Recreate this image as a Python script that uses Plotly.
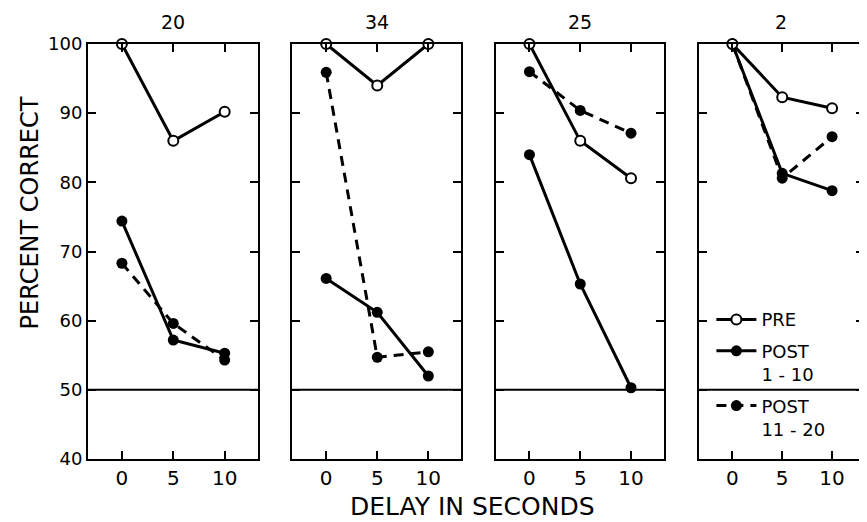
import plotly.graph_objects as go

# ---- data ----
delays = [0, 5, 10]
panel_titles = ["20", "34", "25", "2"]
pre = [[100, 86.0, 90.2], [100, 94.0, 100], [100, 86.0, 80.6], [100, 92.3, 90.7]]
post_1_10 = [[74.4, 57.2, 55.3], [66.1, 61.2, 52.0], [84.0, 65.3, 50.3], [100, 81.3, 78.8]]
post_11_20 = [[68.3, 59.6, 54.3], [95.9, 54.7, 55.5], [96.0, 90.4, 87.1], [100, 80.6, 86.6]]
y_ticks = [40, 50, 60, 70, 80, 90, 100]
x_ticks = [0, 5, 10]

# page coordinates (browser window 867x522, body margin 8px)
OFF = 8
PW, PH = 867, 522
W, H = PW - OFF, PH - OFF
top_px, bot_px = 43.5, 459          # page y of 100 and 40
left_px, right_px = 88, 866
ML = left_px - OFF
MR = W - (right_px - OFF)
MT = top_px - OFF
MB = H - (bot_px - OFF)
plot_w = right_px - left_px
plot_h = bot_px - top_px
panel_px = [(88, 258), (293, 462), (497, 665), (701, 866)]
domains = [[(a - left_px) / plot_w, (b - left_px) / plot_w] for a, b in panel_px]


def px_x(p):
    return (p - left_px) / plot_w


def px_y(p):
    return (bot_px - p) / plot_h


FONT = "DejaVu Sans"
fig = go.Figure()

for i in range(4):
    xa = "x" if i == 0 else f"x{i+1}"
    ya = "y" if i == 0 else f"y{i+1}"
    fig.add_trace(go.Scatter(
        x=delays, y=post_1_10[i], mode="lines+markers", name="POST<br>1 - 10",
        line=dict(color="black", width=3), marker=dict(color="black", size=11),
        xaxis=xa, yaxis=ya, showlegend=False, legendrank=2, legendgroup="b", cliponaxis=False))
    fig.add_trace(go.Scatter(
        x=delays, y=post_11_20[i], mode="lines+markers", name="POST<br>11 - 20",
        line=dict(color="black", width=3, dash="10px,7px"), marker=dict(color="black", size=11),
        xaxis=xa, yaxis=ya, showlegend=False, legendrank=3, legendgroup="c", cliponaxis=False))
    fig.add_trace(go.Scatter(
        x=delays, y=pre[i], mode="lines+markers", name="PRE",
        line=dict(color="black", width=3),
        marker=dict(color="white", size=10, line=dict(color="black", width=2)),
        xaxis=xa, yaxis=ya, showlegend=False, legendrank=1, legendgroup="a", cliponaxis=False))

for tr in fig.data[-3:]:
    tr.showlegend = True

axis_common = dict(showline=True, linecolor="black", linewidth=2, mirror="ticks",
                   ticks="inside", ticklen=8, tickwidth=2, tickcolor="black",
                   showgrid=False, zeroline=False)

layout = dict(
    width=W, height=H, paper_bgcolor="white", plot_bgcolor="white",
    margin=dict(l=ML, r=MR, t=MT, b=MB, pad=0),
    font=dict(family=FONT, color="black"),
    legend=dict(x=px_x(713), y=px_y(301), xanchor="left", yanchor="top",
                bgcolor="rgba(0,0,0,0)", font=dict(size=18, family=FONT), valign="top",
                itemwidth=40, traceorder="grouped", tracegroupgap=5),
)
for i in range(4):
    xk = "xaxis" if i == 0 else f"xaxis{i+1}"
    yk = "yaxis" if i == 0 else f"yaxis{i+1}"
    layout[xk] = dict(domain=domains[i], range=[-3.3, 13.2], tickvals=x_ticks,
                      ticktext=[str(v) for v in x_ticks], tickfont=dict(size=20),
                      anchor="y" if i == 0 else f"y{i+1}", **axis_common)
    layout[yk] = dict(domain=[0, 1], range=[40, 100], tickvals=y_ticks,
                      showticklabels=(i == 0), tickfont=dict(size=18),
                      anchor="x" if i == 0 else f"x{i+1}", **axis_common)
fig.update_layout(**layout)

for i in range(4):
    xr = "x" if i == 0 else f"x{i+1}"
    yr = "y" if i == 0 else f"y{i+1}"
    fig.add_shape(type="line", xref=f"{xr} domain", yref=yr, x0=0, x1=1, y0=50, y1=50,
                  line=dict(color="black", width=2))

title_px = [173, 378, 581, 783]
for t, px in zip(panel_titles, title_px):
    fig.add_annotation(text=t, x=px_x(px), xref="paper", y=px_y(21), yref="paper",
                       showarrow=False, font=dict(size=19, family=FONT),
                       xanchor="center", yanchor="middle")

fig.add_annotation(text="PERCENT CORRECT", x=px_x(30), xref="paper", y=px_y(213), yref="paper",
                   textangle=-90, showarrow=False, font=dict(size=24, family=FONT),
                   xanchor="center", yanchor="middle")
fig.add_annotation(text="DELAY IN SECONDS", x=px_x(473), xref="paper", y=px_y(507), yref="paper",
                   showarrow=False, font=dict(size=25, family=FONT),
                   xanchor="center", yanchor="middle")

fig.write_html("out.html")
